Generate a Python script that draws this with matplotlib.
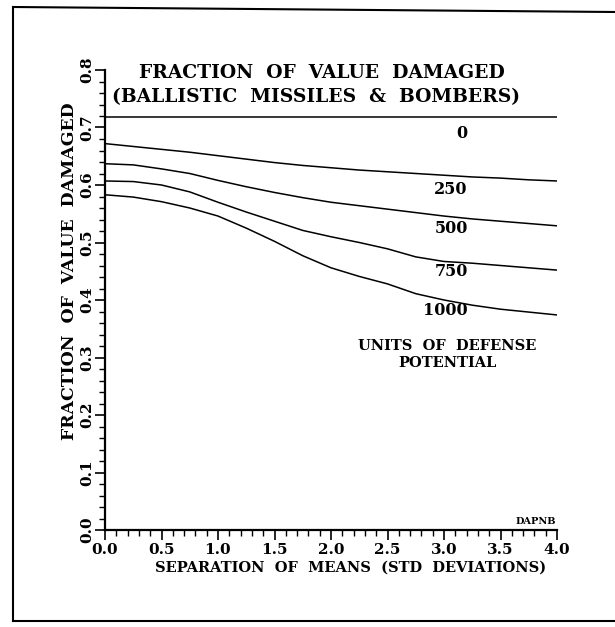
import numpy as np
import matplotlib.pyplot as plt
from matplotlib.lines import Line2D

# separation of means (std deviations)
sep = [0.0, 0.25, 0.5, 0.75, 1.0, 1.25, 1.5, 1.75, 2.0, 2.25, 2.5, 2.75, 3.0, 3.25, 3.5, 3.75, 4.0]

# fraction of value damaged, one curve per defense level
d0 = [0.718] * len(sep)
d250 = [0.672, 0.667, 0.662, 0.657, 0.651, 0.645, 0.639, 0.634, 0.630, 0.626, 0.623, 0.620, 0.617, 0.614, 0.612, 0.609, 0.607]
d500 = [0.637, 0.635, 0.628, 0.620, 0.608, 0.597, 0.587, 0.578, 0.570, 0.564, 0.558, 0.552, 0.546, 0.541, 0.537, 0.533, 0.529]
d750 = [0.607, 0.606, 0.600, 0.588, 0.570, 0.553, 0.537, 0.521, 0.510, 0.500, 0.489, 0.475, 0.467, 0.464, 0.460, 0.456, 0.452]
d1000 = [0.583, 0.579, 0.571, 0.560, 0.546, 0.525, 0.502, 0.477, 0.456, 0.441, 0.428, 0.411, 0.400, 0.391, 0.384, 0.379, 0.374]

curves = [d0, d250, d500, d750, d1000]
labels = ['0', '250', '500', '750', '1000']
label_y = [0.690, 0.593, 0.525, 0.449, 0.381]

font = 'DejaVu Serif'

fig = plt.figure(figsize=(6.15, 6.27), dpi=100)
ax = fig.add_axes([105/615, 97/627, 452/615, 460/627])

for c in curves:
    ax.plot(sep, c, color='black', lw=1.1)

for lab, yy in zip(labels, label_y):
    ax.text(3.21, yy, lab, ha='right', va='center', fontsize=11.5,
            fontweight='bold', family=font)

ax.text(3.03, 0.320, 'UNITS  OF  DEFENSE', ha='center', va='center',
        fontsize=10.5, fontweight='bold', family=font)
ax.text(3.03, 0.290, 'POTENTIAL', ha='center', va='center',
        fontsize=10.5, fontweight='bold', family=font)
ax.text(3.99, 0.014, 'DAPNB', ha='right', va='center', fontsize=7,
        fontweight='bold', family=font)

ax.set_xlim(0, 4.0)
ax.set_ylim(0, 0.8)
ax.set_xticks(np.arange(0, 4.01, 0.5))
ax.set_xticks(np.arange(0, 4.01, 0.1), minor=True)
ax.set_yticks(np.arange(0, 0.81, 0.1))
ax.set_yticks(np.arange(0, 0.81, 0.02), minor=True)
ax.set_xticklabels(['%.1f' % v for v in np.arange(0, 4.01, 0.5)],
                   fontsize=11, fontweight='bold', family=font)
ax.set_yticklabels(['%.1f' % v for v in np.arange(0, 0.81, 0.1)],
                   fontsize=11, fontweight='bold', family=font,
                   rotation=90, va='center')
ax.tick_params(which='major', length=7, width=1.2, direction='out', pad=2)
ax.tick_params(which='minor', length=4, width=1.0, direction='out')
ax.tick_params(axis='y', pad=1)

for s in ['top', 'right']:
    ax.spines[s].set_visible(False)
for s in ['left', 'bottom']:
    ax.spines[s].set_linewidth(1.6)

fig.text(322/615, 1 - 73/627, 'FRACTION  OF  VALUE  DAMAGED', ha='center',
         va='center', fontsize=13.5, fontweight='bold', family=font)
fig.text(316/615, 1 - 97/627, '(BALLISTIC  MISSILES  &  BOMBERS)', ha='center',
         va='center', fontsize=13.5, fontweight='bold', family=font)
fig.text(351/615, 1 - 568/627, 'SEPARATION  OF  MEANS  (STD  DEVIATIONS)',
         ha='center', va='center', fontsize=10.5, fontweight='bold', family=font)
fig.text(70/615, 1 - 271/627, 'FRACTION  OF  VALUE  DAMAGED', ha='center',
         va='center', rotation=90, fontsize=12.4, fontweight='bold', family=font)

# page frame (top, left, bottom)
fig.add_artist(Line2D([13/615, 1.0], [1 - 7/627, 1 - 12/627], color='black', lw=1.5))
fig.add_artist(Line2D([13/615, 13/615], [1 - 7/627, 1 - 621/627], color='black', lw=1.5))
fig.add_artist(Line2D([13/615, 1.0], [1 - 621/627, 1 - 621/627], color='black', lw=1.5))

fig.savefig('out.png', dpi=100)
